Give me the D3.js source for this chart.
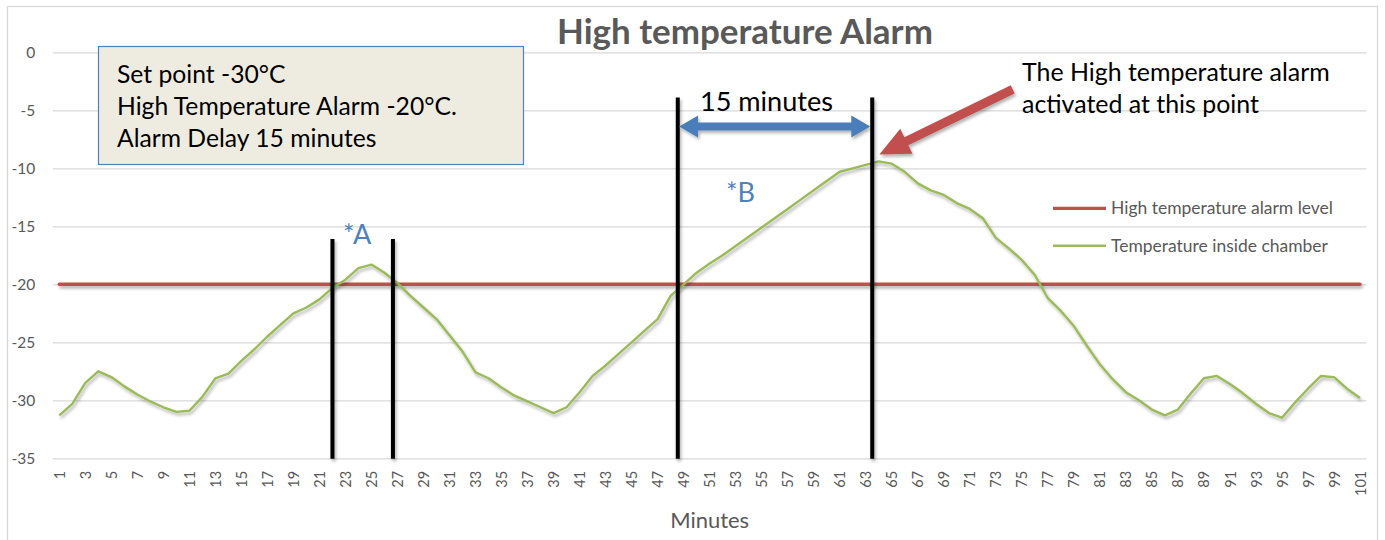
<!DOCTYPE html>
<html><head><meta charset="utf-8">
<script src="https://cdn.jsdelivr.net/npm/d3@7"></script>
<style>body{margin:0;background:#fff}svg{display:block}</style>
</head><body>
<svg id="chart" width="1385" height="540"></svg>
<script>
// ---------- data ----------
const minutes = d3.range(1, 102);            // category axis 1..101
const xTickLabels = minutes.filter(m => m % 2 === 1);
const yTicks = [0, -5, -10, -15, -20, -25, -30, -35];
const alarmLevel = -20;                       // High temperature alarm level
const chamberTemp = [
  -31.3, -30.3, -28.5, -27.5, -28.0, -28.8, -29.5, -30.1, -30.6, -31.0,
  -30.9, -29.7, -28.1, -27.7, -26.6, -25.6, -24.5, -23.5, -22.5, -22.0,
  -21.3, -20.3, -19.6, -18.6, -18.3, -19.0, -19.9, -21.0, -22.0, -23.0,
  -24.4, -25.8, -27.6, -28.1, -28.9, -29.6, -30.1, -30.6, -31.1, -30.6,
  -29.3, -27.9, -27.0, -26.0, -25.0, -24.0, -23.0, -21.0, -20.0, -19.0,
  -18.2, -17.5, -16.7, -15.9, -15.1, -14.3, -13.5, -12.7, -11.9, -11.1,
  -10.3, -10.0, -9.7, -9.4, -9.6, -10.3, -11.3, -11.9, -12.3, -13.0,
  -13.5, -14.3, -16.0, -16.9, -17.9, -19.2, -21.2, -22.3, -23.6, -25.3,
  -26.9, -28.2, -29.3, -30.0, -30.8, -31.3, -30.8, -29.4, -28.1, -27.9,
  -28.6, -29.4, -30.3, -31.1, -31.5, -30.2, -29.0, -27.9, -28.0, -29.0,
  -29.8
];
const seriesNames = ["High temperature alarm level", "Temperature inside chamber"];
const seriesColors = ["#c0504d", "#9bbb59"];
const title = "High temperature Alarm";
const xTitle = "Minutes";
const infoLines = ["Set point -30°C", "High Temperature Alarm -20°C.", "Alarm Delay 15 minutes"];
const noteLines = ["The High temperature alarm", "activated at this point"];
// annotation markers (minute, temperature)
const markA = [22, 26.65];          // *A window
const markB = [48.55, 63.5];        // *B window (15 minutes)
const markTopA = -16.1, markTopB = -3.9;
const delayArrow = {from: 48.65, to: 63.35, temp: -6.4};
const alarmArrow = {from: [74.3, -3.2], to: [64.05, -8.8]};

// ---------- layout ----------
const W = 1385, H = 540;
const plot = {left: 52.8, right: 1366.5, top: 52.3, bottom: 458.3};
const svg = d3.select("#chart");
const FONT = "Lato, 'Open Sans', sans-serif";

const x = d3.scalePoint().domain(minutes).range([plot.left, plot.right]).padding(0.5);
const xl = d3.scaleLinear().domain([1, 101]).range([x(1), x(101)]);
const y = d3.scaleLinear().domain([-35, 0]).range([plot.bottom, plot.top]);

const defs = svg.append("defs");
const f = defs.append("filter").attr("id", "shadow").attr("filterUnits", "userSpaceOnUse")
  .attr("x", 0).attr("y", 0).attr("width", W).attr("height", H);
f.append("feDropShadow").attr("dx", 1.5).attr("dy", 2.5).attr("stdDeviation", 1.4)
  .attr("flood-color", "#000").attr("flood-opacity", 0.3);

function fit(sel, width) {
  const fs = parseFloat(sel.attr("font-size"));
  const l = sel.node().getComputedTextLength();
  const nfs = fs * width / l;
  sel.attr("font-size", nfs);
  return nfs;
}

// outer border
svg.append("rect").attr("x", 7.5).attr("y", 6.5).attr("width", 1370).attr("height", 545)
  .attr("fill", "#fff").attr("stroke", "#d9d9d9").attr("stroke-width", 1.3);

// y axis + gridlines
const yAxis = svg.append("g").attr("transform", `translate(${plot.left},0)`)
  .call(d3.axisLeft(y).tickValues(yTicks).tickSize(-(plot.right - plot.left)).tickPadding(17.5).tickFormat(d3.format("d")));
yAxis.select(".domain").remove();
yAxis.selectAll(".tick line").attr("stroke", "#d9d9d9").attr("stroke-width", 1.3);
yAxis.selectAll(".tick text").attr("fill", "#595959").attr("font-family", FONT).attr("font-size", 15.5);
yAxis.selectAll(".tick text").text(d => d === 0 ? "0" : "-" + Math.abs(d));

// x axis labels
const xAxis = svg.append("g").attr("transform", `translate(0,${plot.bottom})`)
  .call(d3.axisBottom(x).tickValues(xTickLabels).tickSize(0));
xAxis.select(".domain").remove();
xAxis.selectAll(".tick text")
  .attr("fill", "#595959").attr("font-family", FONT).attr("font-size", 14.5)
  .attr("text-anchor", "end").attr("transform", "rotate(-90)")
  .attr("x", -12.5).attr("y", 0).attr("dy", "0.35em");

// x title
const xt = svg.append("text").attr("x", (plot.left + plot.right) / 2).attr("y", 528)
  .attr("text-anchor", "middle").attr("fill", "#595959").attr("font-family", FONT).attr("font-size", 18).text(xTitle);
fit(xt, 79);

// chart title
const tt = svg.append("text").attr("x", 557).attr("y", 43.5).attr("fill", "#595959")
  .attr("font-family", FONT).attr("font-weight", "bold").attr("font-size", 30).text(title);
fit(tt, 376);

// series: alarm level (red)
svg.append("line").attr("x1", x(1)).attr("x2", x(101)).attr("y1", y(alarmLevel)).attr("y2", y(alarmLevel))
  .attr("stroke", seriesColors[0]).attr("stroke-width", 3.4).attr("stroke-linecap", "round").attr("filter", "url(#shadow)");

// series: chamber temperature (green)
svg.append("path").datum(chamberTemp)
  .attr("d", d3.line().x((d, i) => x(minutes[i])).y(d => y(d)))
  .attr("fill", "none").attr("stroke", seriesColors[1]).attr("stroke-width", 2.4)
  .attr("stroke-linejoin", "round").attr("filter", "url(#shadow)");

// black marker lines
const vlines = [
  {m: markA[0], top: markTopA}, {m: markA[1], top: markTopA},
  {m: markB[0], top: markTopB}, {m: markB[1], top: markTopB}
];
svg.append("g").selectAll("line").data(vlines).join("line")
  .attr("x1", d => xl(d.m)).attr("x2", d => xl(d.m))
  .attr("y1", d => y(d.top)).attr("y2", y(-35) + 0.5)
  .attr("stroke", "#000").attr("stroke-width", 4).attr("filter", "url(#shadow)");

// blue double arrow
(function () {
  const x1 = xl(delayArrow.from), x2 = xl(delayArrow.to), yy = y(delayArrow.temp);
  const t = 4, hw = 11, hl = 19;
  const pts = [[x1, yy], [x1 + hl, yy - hw], [x1 + hl, yy - t], [x2 - hl, yy - t], [x2 - hl, yy - hw], [x2, yy],
    [x2 - hl, yy + hw], [x2 - hl, yy + t], [x1 + hl, yy + t], [x1 + hl, yy + hw]];
  svg.append("path").attr("d", "M" + pts.join("L") + "Z").attr("fill", "#4a7ebb").attr("filter", "url(#shadow)");
})();

// red arrow
(function () {
  const sx = xl(alarmArrow.from[0]), sy = y(alarmArrow.from[1]);
  const ex = xl(alarmArrow.to[0]), ey = y(alarmArrow.to[1]);
  const dx = ex - sx, dy = ey - sy, L = Math.hypot(dx, dy);
  const ux = dx / L, uy = dy / L, nx = -uy, ny = ux;
  const t = 4.5, hw = 14, hl = 30;
  const bx = ex - ux * hl, by = ey - uy * hl;
  const pts = [[sx + nx * t, sy + ny * t], [bx + nx * t, by + ny * t], [bx + nx * hw, by + ny * hw], [ex, ey],
    [bx - nx * hw, by - ny * hw], [bx - nx * t, by - ny * t], [sx - nx * t, sy - ny * t]];
  svg.append("path").attr("d", "M" + pts.join("L") + "Z").attr("fill", "#c0504d").attr("filter", "url(#shadow)");
})();

// "15 minutes"
const fm = svg.append("text").attr("x", 700).attr("y", 111).attr("fill", "#000")
  .attr("font-family", FONT).attr("font-size", 26).text("15 minutes");
fit(fm, 133);

// *A and *B
svg.append("text").attr("x", 343).attr("y", 244).attr("fill", "#4f81bd")
  .attr("font-family", FONT).attr("font-size", 27).text("*A");
svg.append("text").attr("x", 726).attr("y", 202).attr("fill", "#4f81bd")
  .attr("font-family", FONT).attr("font-size", 27).text("*B");

// info box
svg.append("rect").attr("x", 98.5).attr("y", 46.5).attr("width", 425).attr("height", 118)
  .attr("fill", "#eeece1").attr("stroke", "#4f81bd").attr("stroke-width", 1.2);
const info = svg.append("g").selectAll("text").data(infoLines).join("text")
  .attr("x", 117).attr("y", (d, i) => 83 + i * 32).attr("fill", "#000")
  .attr("font-family", FONT).attr("font-size", 22).text(d => d);
const ifs = fit(d3.select(info.nodes()[1]), 340);
info.attr("font-size", ifs);

// note text
const note = svg.append("g").selectAll("text").data(noteLines).join("text")
  .attr("x", 1022).attr("y", (d, i) => 81 + i * 32).attr("fill", "#000")
  .attr("font-family", FONT).attr("font-size", 22).text(d => d);
const nfs = fit(d3.select(note.nodes()[0]), 308);
note.attr("font-size", nfs);

// legend
const leg = svg.append("g").selectAll("g").data(seriesNames).join("g")
  .attr("transform", (d, i) => `translate(1053,${208.3 + i * 37.5})`);
leg.append("line").attr("x1", 0).attr("x2", 53).attr("stroke", (d, i) => seriesColors[i]).attr("stroke-width", (d, i) => i === 0 ? 3.2 : 2.4);
const lt = leg.append("text").attr("x", 58).attr("dy", "0.35em").attr("fill", "#595959")
  .attr("font-family", FONT).attr("font-size", 15).text(d => d);
const lfs = fit(d3.select(lt.nodes()[0]), 222);
lt.attr("font-size", lfs);
</script>
</body></html>
